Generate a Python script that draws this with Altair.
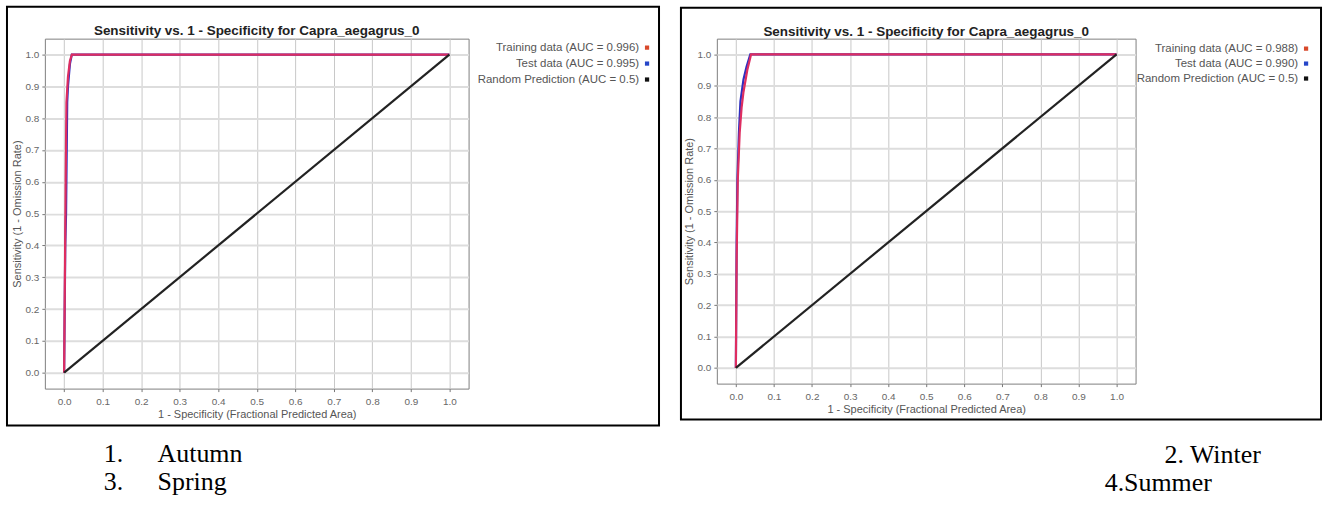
import altair as alt
import pandas as pd

# ---------------- data ----------------
TITLE = "Sensitivity vs. 1 - Specificity for Capra_aegagrus_0"
X_TITLE = "1 - Specificity (Fractional Predicted Area)"
Y_TITLE = "Sensitivity (1 - Omission Rate)"
TICK_VALUES = [0.0, 0.1, 0.2, 0.3, 0.4, 0.5, 0.6, 0.7, 0.8, 0.9, 1.0]

# Autumn ROC curves
autumn_train_x = [0.0, 0.002, 0.004, 0.006, 0.010, 0.015, 0.020, 1.0]
autumn_train_y = [0.0, 0.30, 0.60, 0.85, 0.93, 0.98, 1.0, 1.0]
autumn_test_x = [0.0, 0.003, 0.005, 0.008, 0.010, 0.015, 0.020, 1.0]
autumn_test_y = [0.0, 0.40, 0.50, 0.85, 0.90, 0.97, 1.0, 1.0]

# Winter ROC curves
winter_train_x = [0.0, 0.002, 0.005, 0.010, 0.015, 0.020, 0.030, 0.040, 1.0]
winter_train_y = [0.0, 0.35, 0.60, 0.75, 0.83, 0.88, 0.95, 1.0, 1.0]
winter_test_x = [0.0, 0.002, 0.004, 0.008, 0.012, 0.020, 0.028, 0.038, 1.0]
winter_test_y = [0.0, 0.40, 0.60, 0.75, 0.85, 0.92, 0.96, 1.0, 1.0]

# Random prediction
random_x = [0.0, 1.0]
random_y = [0.0, 1.0]

autumn_legend = ["Training data (AUC = 0.996)", "Test data (AUC = 0.995)",
                 "Random Prediction (AUC = 0.5)"]
winter_legend = ["Training data (AUC = 0.988)", "Test data (AUC = 0.990)",
                 "Random Prediction (AUC = 0.5)"]

LINE_COLORS = {"train": "#de2d60", "test": "#2f2fbf", "random": "#222222"}
MARKER_COLORS = ["#d8482a", "#2646c8", "#111111"]

left_captions = [("1.", 103, 454), ("Autumn", 157, 454), ("3.", 103, 482), ("Spring", 157, 482)]
right_captions = [("2. Winter", 1165, 454), ("4.Summer", 1105, 482)]

SANS = "Liberation Sans"
SERIF = "Liberation Serif"


def one_row():
    return pd.DataFrame({"k": [0]})


def panel(train_x, train_y, test_x, test_y, legend, w, h, ox, oy,
          box, span, captions, legend_right, legend_rows):
    X = alt.X("x:Q",
              scale=alt.Scale(domain=[-0.05, 1.05], nice=False, zero=False),
              axis=alt.Axis(values=TICK_VALUES, format=".1f", title=X_TITLE,
                            labelFontSize=10, labelColor="#666", labelFont=SANS,
                            tickColor="#777", tickSize=3, labelPadding=5,
                            domain=False, grid=True, gridColor="#c8c8c8", gridWidth=1,
                            titleFontSize=11, titleFontWeight="normal", titleColor="#555",
                            titleFont=SANS, titlePadding=2, labelFlush=False,
                            labelOverlap=False))
    Y = alt.Y("y:Q",
              scale=alt.Scale(domain=[-0.05, 1.05], nice=False, zero=False),
              axis=alt.Axis(values=TICK_VALUES, format=".1f", title=Y_TITLE,
                            labelFontSize=10, labelColor="#666", labelFont=SANS,
                            tickColor="#777", tickSize=3, labelPadding=3,
                            domain=False, grid=True, gridColor="#dddddd", gridWidth=2,
                            titleFontSize=11, titleFontWeight="normal", titleColor="#555",
                            titleFont=SANS, titlePadding=3, labelFlush=False,
                            labelOverlap=False))

    def line(xs, ys, color):
        df = pd.DataFrame({"x": xs, "y": ys, "i": list(range(len(xs)))})
        return alt.Chart(df).mark_line(color=color, strokeWidth=2.2).encode(
            x=X, y=Y, order="i:Q")

    def rx(px):
        return px - ox

    def ry(py):
        return py - oy

    layers = []
    # invisible rect pinning the panel bounds in the page
    layers.append(alt.Chart(one_row()).mark_rect(opacity=0).encode(
        x=alt.value(rx(span[0])), x2=alt.value(rx(span[1])),
        y=alt.value(ry(0)), y2=alt.value(ry(510))))
    # outer border box
    layers.append(alt.Chart(one_row()).mark_rect(fill=None, fillOpacity=0, stroke="#000",
                                                 strokeWidth=2).encode(
        x=alt.value(rx(box[0])), x2=alt.value(rx(box[2])),
        y=alt.value(ry(box[1])), y2=alt.value(ry(box[3]))))
    # curves
    layers.append(line(test_x, test_y, LINE_COLORS["test"]))
    layers.append(line(train_x, train_y, LINE_COLORS["train"]))
    layers.append(line(random_x, random_y, LINE_COLORS["random"]))
    # title
    layers.append(alt.Chart(one_row()).mark_text(
        text=TITLE, font=SANS, fontSize=13.5, fontWeight="bold", color="#222",
        align="center", baseline="middle").encode(
        x=alt.value(w / 2), y=alt.value(ry(29))))
    # legend
    for label, color, py in zip(legend, MARKER_COLORS, legend_rows):
        layers.append(alt.Chart(one_row()).mark_text(
            text=label, font=SANS, fontSize=11.5, color="#555",
            align="right", baseline="middle").encode(
            x=alt.value(rx(legend_right)), y=alt.value(ry(py))))
        layers.append(alt.Chart(one_row()).mark_square(
            color=color, opacity=1, size=18).encode(
            x=alt.value(rx(legend_right + 8)), y=alt.value(ry(py))))
    # captions
    for text, px, py in captions:
        layers.append(alt.Chart(one_row()).mark_text(
            text=text, font=SERIF, fontSize=26, color="#000",
            align="left", baseline="middle").encode(
            x=alt.value(rx(px)), y=alt.value(ry(py))))

    return alt.layer(*layers).properties(width=w, height=h)


left = panel(autumn_train_x, autumn_train_y, autumn_test_x, autumn_test_y, autumn_legend,
             w=425, h=351, ox=44, oy=37, box=(6, 5, 660, 425), span=(0, 670),
             captions=left_captions, legend_right=640, legend_rows=[46, 62, 78])
right = panel(winter_train_x, winter_train_y, winter_test_x, winter_test_y, winter_legend,
              w=420, h=346, ox=716, oy=36, box=(680, 5, 1322, 418), span=(670, 1328),
              captions=right_captions, legend_right=1299, legend_rows=[46, 61, 76])

chart = alt.hconcat(left, right, spacing=0, bounds="full").properties(
    padding=0, background="white"
).configure_view(stroke="#808080", strokeWidth=1, fill="white")

chart.save("out.html", embed_options={"renderer": "svg", "actions": False})
